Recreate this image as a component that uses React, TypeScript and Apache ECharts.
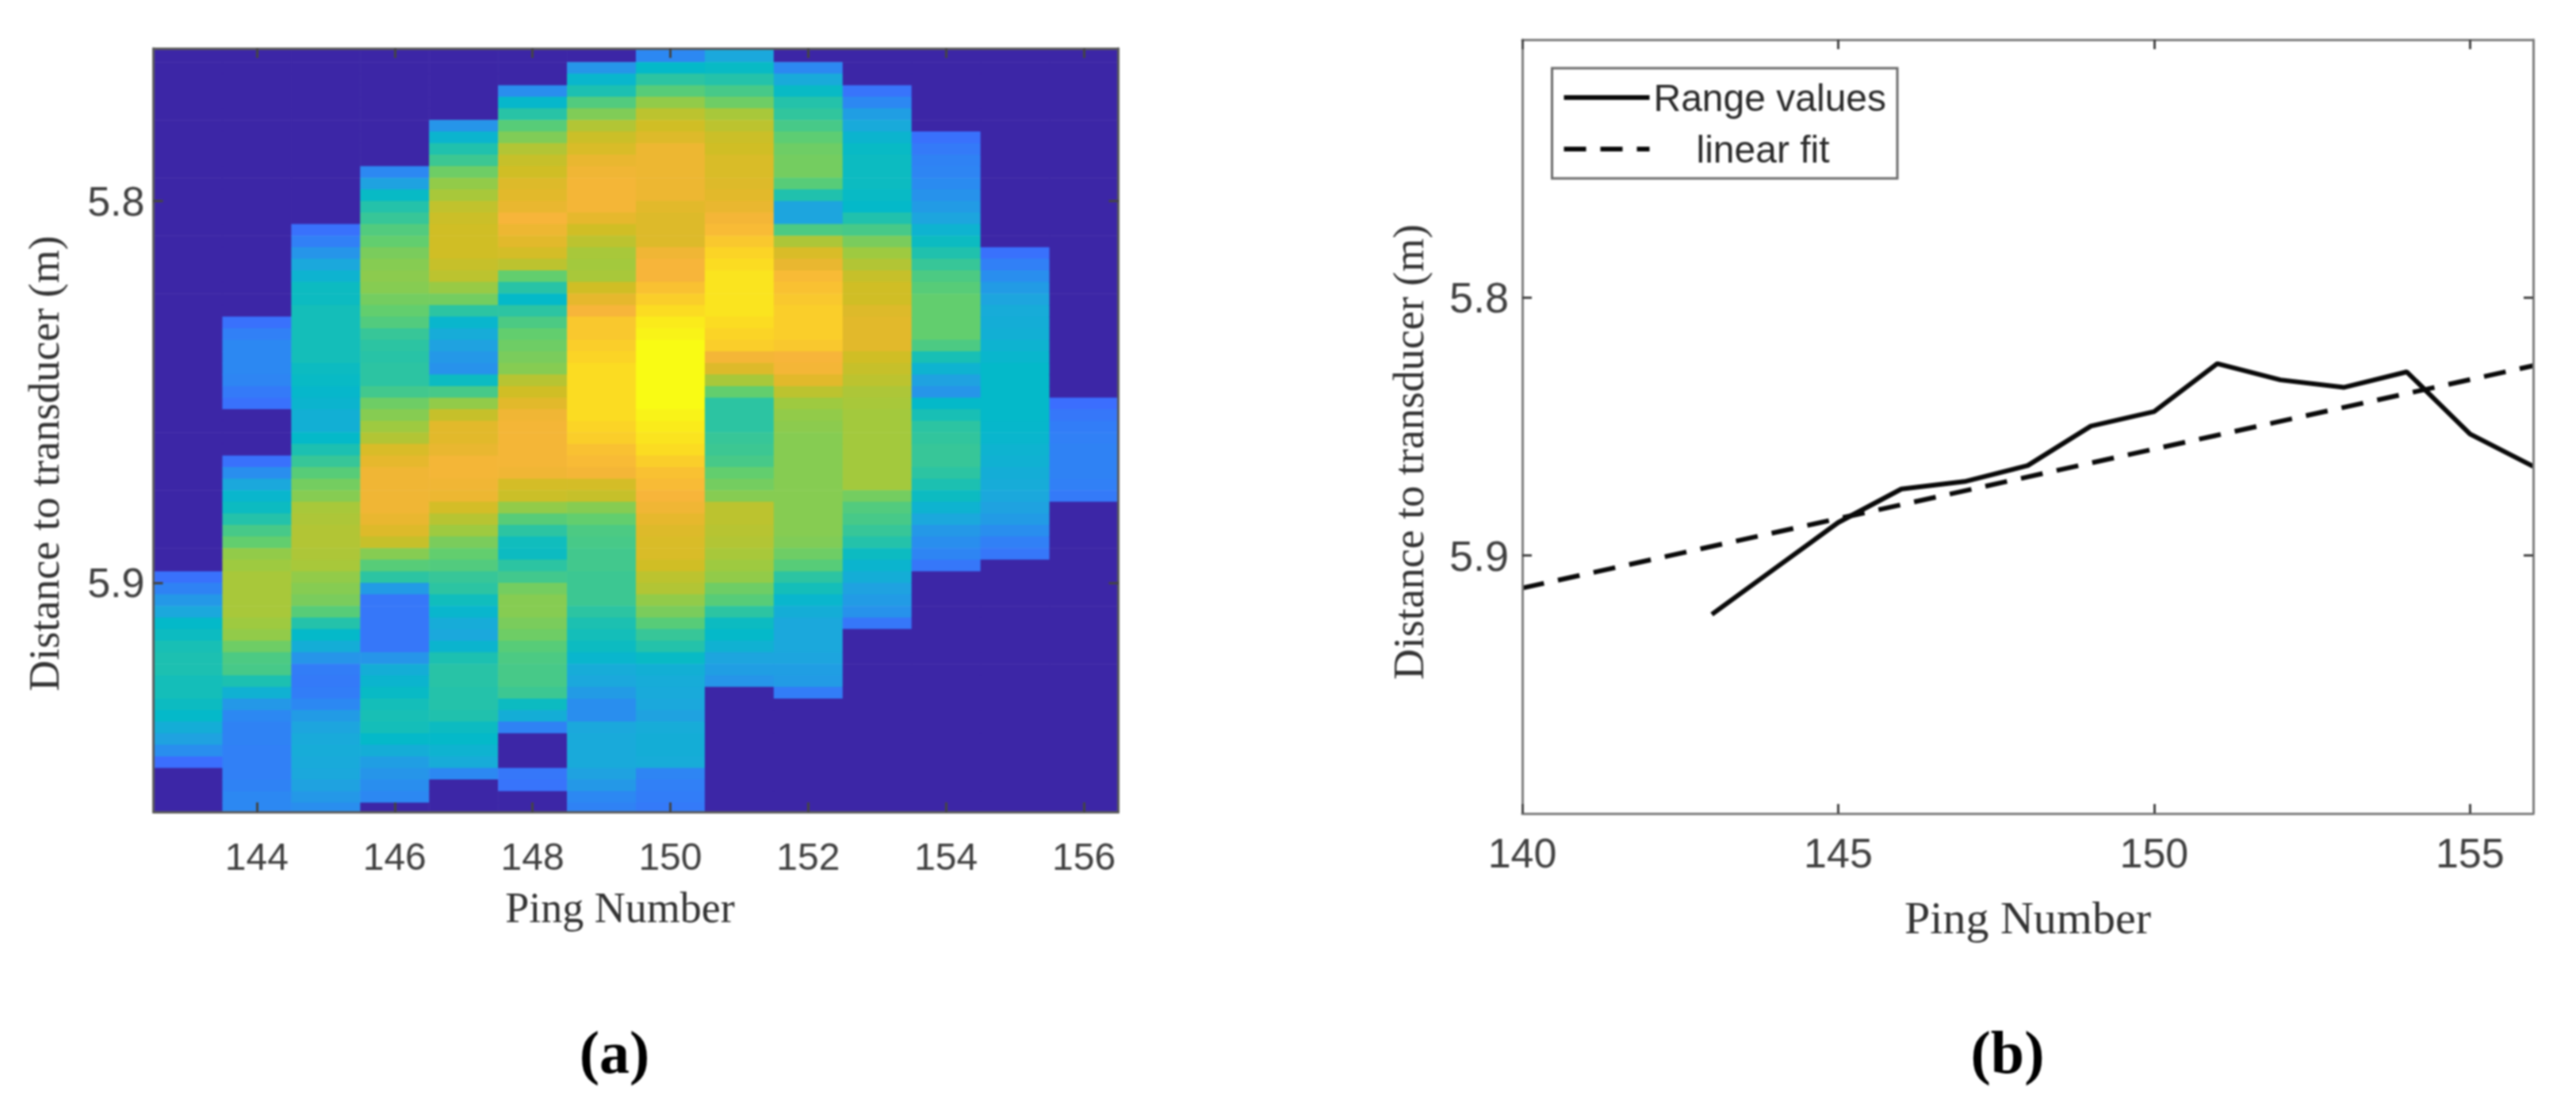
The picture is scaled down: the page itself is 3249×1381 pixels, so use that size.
import React, { useEffect, useRef } from "react";
import * as echarts from "echarts";

// ---------- Panel (a): echo intensity per ping, top row to bottom row (0 = no echo) ----------
const ping143 = [0,0,0,0,0,0,0,0,0,0,0,0,0,0,0,0,0,0,0,0,0,0,0,0,0,0,0,0,0,0,0,0,0,0,0,0,0,0,0,0,0,0,0,0,0,0,12,18,25,30,40,42,45,46,46,44,44,42,40,33,28,22,11,0,0,0,0];
const ping144 = [0,0,0,0,0,0,0,0,0,0,0,0,0,0,0,0,0,0,0,0,0,0,0,0,12,17,20,20,20,19,15,12,0,0,0,0,12,22,30,38,42,48,55,60,68,70,72,72,72,72,70,68,62,56,55,46,35,25,20,18,18,17,17,17,18,20,20];
const ping145 = [0,0,0,0,0,0,0,0,0,0,0,0,0,0,0,0,12,17,24,30,36,42,42,44,44,44,44,44,42,41,39,37,34,34,40,46,52,58,63,66,72,73,74,74,73,72,68,66,64,58,48,40,33,24,16,15,16,20,26,29,31,32,31,30,28,25,22];
const ping146 = [0,0,0,0,0,0,0,0,0,0,0,20,28,41,48,52,57,60,64,66,67,66,63,60,57,52,50,49,50,50,54,62,66,70,74,82,85,88,88,88,88,86,83,78,66,58,50,26,14,14,14,14,14,24,33,37,41,44,45,44,40,33,27,24,22,20,0];
const ping147 = [0,0,0,0,0,0,0,24,37,47,53,62,68,72,77,79,80,80,80,78,76,69,63,50,38,32,28,25,23,42,55,68,78,84,84,86,89,89,88,87,81,75,70,64,60,57,52,50,43,38,32,30,37,46,49,49,48,48,47,42,40,36,32,20,0,0,0];
const ping148 = [0,0,0,0,22,39,49,58,65,74,78,80,83,84,86,90,87,84,81,76,60,49,40,50,56,60,62,64,66,75,80,84,88,89,89,89,89,88,81,79,68,58,50,43,42,50,54,63,66,66,64,62,58,56,55,55,53,42,33,18,0,0,0,14,13,0,0];
const ping149 = [0,0,24,38,46,57,65,74,79,82,86,88,89,89,89,85,80,76,72,71,72,80,85,90,93,93,94,95,96,96,96,96,96,95,94,92,91,89,81,78,66,60,56,55,54,54,53,53,53,50,46,44,42,38,32,30,26,22,22,30,31,31,31,28,25,20,18];
const ping150 = [20,20,40,50,58,68,76,80,83,87,87,87,87,87,84,83,83,83,88,90,90,92,94,96,98,99,100,100,100,100,100,100,99,98,97,96,94,92,91,90,88,85,83,82,82,80,76,74,68,64,58,52,48,41,34,32,31,30,28,32,33,33,32,19,17,16,15];
const ping151 = [30,30,41,48,55,62,72,76,79,80,82,82,83,84,86,89,91,93,95,96,97,97,97,97,96,95,94,89,83,72,60,50,50,50,52,53,55,60,63,66,76,76,75,74,72,70,68,62,58,50,42,40,35,29,27,24,0,0,0,0,0,0,0,0,0,0,0];
const ping152 = [0,0,20,31,41,48,51,55,59,62,63,63,58,47,29,29,56,73,82,86,91,92,93,94,94,94,93,90,89,84,76,70,68,67,66,66,66,66,66,66,66,66,66,65,62,58,50,44,38,33,30,30,30,29,27,26,16,0,0,0,0,0,0,0,0,0,0];
const ping153 = [0,0,0,0,13,20,27,31,37,41,42,42,42,41,40,47,55,64,70,74,78,80,80,83,84,84,84,80,78,76,73,72,71,71,71,71,71,71,71,63,57,55,52,48,42,37,33,28,26,23,14,0,0,0,0,0,0,0,0,0,0,0,0,0,0,0,0];
const ping154 = [0,0,0,0,0,0,0,0,12,15,18,19,21,23,26,29,36,42,47,52,56,58,60,60,60,60,56,45,36,28,24,40,45,50,51,52,52,50,46,42,36,30,25,22,19,14,0,0,0,0,0,0,0,0,0,0,0,0,0,0,0,0,0,0,0,0,0];
const ping155 = [0,0,0,0,0,0,0,0,0,0,0,0,0,0,0,0,0,0,12,17,22,26,29,32,33,34,36,38,40,40,40,40,40,39,38,36,35,33,32,30,28,26,22,17,14,0,0,0,0,0,0,0,0,0,0,0,0,0,0,0,0,0,0,0,0,0,0];
const ping156 = [0,0,0,0,0,0,0,0,0,0,0,0,0,0,0,0,0,0,0,0,0,0,0,0,0,0,0,0,0,0,0,11,14,16,17,18,18,18,17,15,0,0,0,0,0,0,0,0,0,0,0,0,0,0,0,0,0,0,0,0,0,0,0,0,0,0,0];

const echoPings = [143,144,145,146,147,148,149,150,151,152,153,154,155,156];
const echoColumns = [ping143,ping144,ping145,ping146,ping147,ping148,ping149,ping150,ping151,ping152,ping153,ping154,ping155,ping156];
const firstRowDepth = 5.75752;
const rowStep = 0.003031;

const echoTicksX = [144,146,148,150,152,154,156];
const depthTicks = [5.8,5.9];

const echoColors = ["#3C26A6","#3C48D2","#3D6BFF","#347AF8","#2C88F2","#2498E7","#1BA8DC","#10B1D2","#04B9C9","#18BFB5","#2CC4A2","#47C988","#62CE6E","#80CC57","#9ECA40","#B7C432","#D0BE25","#E6B82D","#F7B53A","#FBD426","#F9FB14"];

// ---------- Panel (b): range values and their linear fit ----------
const rangePings = [143,144,145,146,147,148,149,150,151,152,153,154,155,156];
const rangeValues = [5.9228,5.905,5.8872,5.8742,5.8713,5.8651,5.8498,5.8442,5.8256,5.8319,5.8348,5.8288,5.8529,5.8654];
const fitPings = [140,156];
const fitValues = [5.9126,5.8264];
const rangeTicksX = [140,145,150,155];

const SANS = "'Liberation Sans', Arial, sans-serif";
const SERIF = "'Liberation Serif', 'Times New Roman', serif";
const INK = "#0a0a0a";
const FIT_DASH = [28, 18];

const echoData: number[][] = [];
echoColumns.forEach((col, c) => {
  col.forEach((v, r) => {
    echoData.push([echoPings[c], firstRowDepth + r * rowStep, v]);
  });
});

function renderCell(params: any, api: any) {
  const x = api.value(0);
  const y = api.value(1);
  const tl = api.coord([x - 0.5, y]);
  const br = api.coord([x + 0.5, y + rowStep]);
  const cs = params.coordSys;
  const shape = echarts.graphic.clipRectByRect(
    { x: tl[0], y: tl[1], width: br[0] - tl[0] + 0.6, height: br[1] - tl[1] + 0.6 },
    { x: cs.x, y: cs.y, width: cs.width, height: cs.height }
  );
  return shape && { type: "rect", shape, style: { fill: api.visual("color") } };
}

function boxAxis(gridIndex: number, position: string, min: number, max: number, ticks: number[], color: string, extra: any = {}) {
  return {
    type: "value",
    gridIndex,
    position,
    min,
    max,
    z: 5,
    splitLine: { show: false },
    axisLine: { show: true, onZero: false, lineStyle: { color, width: 3 } },
    axisTick: { show: true, inside: true, length: 12, customValues: ticks, lineStyle: { color: "#444", width: 3 } },
    axisLabel: { show: false, customValues: ticks },
    ...extra,
  };
}

function labelled(size: number, margin: number, formatter?: (v: number) => string) {
  return { show: true, fontFamily: SANS, fontSize: size, color: "#404040", margin, formatter };
}

function nameStyle(size: number, padding: number[]) {
  return { fontFamily: SERIF, fontSize: size, color: "#333", padding };
}

const oneDecimal = (v: number) => v.toFixed(1);
const noDecimal = (v: number) => String(Math.round(v));

export default function App() {
  const ref = useRef<HTMLDivElement>(null);
  useEffect(() => {
    document.body.style.margin = "0";
    const chart = echarts.init(ref.current!, undefined, { renderer: "svg" });
    chart.setOption({
      animation: false,
      backgroundColor: "#ffffff",
      grid: [
        { left: 193.5, top: 61, width: 1217, height: 963 },
        { left: 1920, top: 50, width: 1275, height: 976 },
      ],
      xAxis: [
        boxAxis(0, "bottom", 142.5, 156.5, echoTicksX, "#5c5c5c", {
          axisLabel: { ...labelled(48, 32, noDecimal), customValues: echoTicksX },
          name: "Ping Number",
          nameLocation: "middle",
          nameGap: 94,
          nameTextStyle: nameStyle(54, [0, 40, 0, 0]),
        }),
        boxAxis(0, "top", 142.5, 156.5, echoTicksX, "#5c5c5c"),
        boxAxis(1, "bottom", 140, 156, rangeTicksX, "#7c7c7c", {
          axisLabel: { ...labelled(52, 24, noDecimal), customValues: rangeTicksX },
          name: "Ping Number",
          nameLocation: "middle",
          nameGap: 102,
          nameTextStyle: nameStyle(58, [0, 0, 0, 0]),
        }),
        boxAxis(1, "top", 140, 156, rangeTicksX, "#7c7c7c"),
      ],
      yAxis: [
        boxAxis(0, "left", 5.76, 5.96, depthTicks, "#5c5c5c", {
          inverse: true,
          axisLabel: { ...labelled(52, 11, oneDecimal), customValues: depthTicks },
          name: "Distance to transducer (m)",
          nameLocation: "middle",
          nameGap: 111,
          nameTextStyle: nameStyle(54, [0, 84, 0, 0]),
        }),
        boxAxis(0, "right", 5.76, 5.96, depthTicks, "#5c5c5c", { inverse: true }),
        boxAxis(1, "left", 5.7, 6.0, depthTicks, "#7c7c7c", {
          inverse: true,
          axisLabel: { ...labelled(54, 17, oneDecimal), customValues: depthTicks },
          name: "Distance to transducer (m)",
          nameLocation: "middle",
          nameGap: 116,
          nameTextStyle: nameStyle(54, [0, 64, 0, 0]),
        }),
        boxAxis(1, "right", 5.7, 6.0, depthTicks, "#7c7c7c", { inverse: true }),
      ],
      visualMap: {
        show: false,
        type: "continuous",
        seriesIndex: 0,
        dimension: 2,
        min: 0,
        max: 100,
        inRange: { color: echoColors },
      },
      legend: {
        left: 1957.5,
        top: 86,
        orient: "vertical",
        align: "left",
        itemWidth: 108,
        itemHeight: 48,
        itemGap: 17,
        padding: [13, 14, 13, 12],
        backgroundColor: "#ffffff",
        borderColor: "#6a6a6a",
        borderWidth: 3,
        textStyle: { fontFamily: SANS, fontSize: 48, color: "#2a2a2a" },
        itemStyle: { opacity: 0 },
        data: [
          { name: "Range values", itemStyle: { opacity: 0 }, lineStyle: { color: INK, width: 6, type: "solid" } },
          { name: "linear fit", itemStyle: { opacity: 0 }, lineStyle: { color: INK, width: 6, type: FIT_DASH }, textStyle: { padding: [0, 0, 0, 54] } },
        ],
      },
      series: [
        {
          type: "custom",
          name: "Echo intensity",
          xAxisIndex: 0,
          yAxisIndex: 0,
          coordinateSystem: "cartesian2d",
          renderItem: renderCell,
          encode: { x: 0, y: 1 },
          data: echoData,
          clip: true,
          z: 1,
          silent: true,
        },
        {
          type: "line",
          name: "Range values",
          xAxisIndex: 2,
          yAxisIndex: 2,
          symbol: "none",
          itemStyle: { color: INK },
          lineStyle: { color: INK, width: 6 },
          data: rangePings.map((p, i) => [p, rangeValues[i]]),
          z: 3,
        },
        {
          type: "line",
          name: "linear fit",
          xAxisIndex: 2,
          yAxisIndex: 2,
          symbol: "none",
          itemStyle: { color: INK },
          lineStyle: { color: INK, width: 6, type: FIT_DASH },
          data: fitPings.map((p, i) => [p, fitValues[i]]),
          z: 3,
        },
      ],
      graphic: [
        { type: "text", x: 775, y: 1327, style: { text: "(a)", fontFamily: SERIF, fontWeight: "bold", fontSize: 76, fill: "#000", align: "center", verticalAlign: "middle" } },
        { type: "text", x: 2532, y: 1327, style: { text: "(b)", fontFamily: SERIF, fontWeight: "bold", fontSize: 76, fill: "#000", align: "center", verticalAlign: "middle" } },
      ],
    });
    return () => chart.dispose();
  }, []);
  return <div ref={ref} style={{ position: "absolute", left: 0, top: 0, width: 3249, height: 1381, filter: "blur(0.8px)" }} />;
}
